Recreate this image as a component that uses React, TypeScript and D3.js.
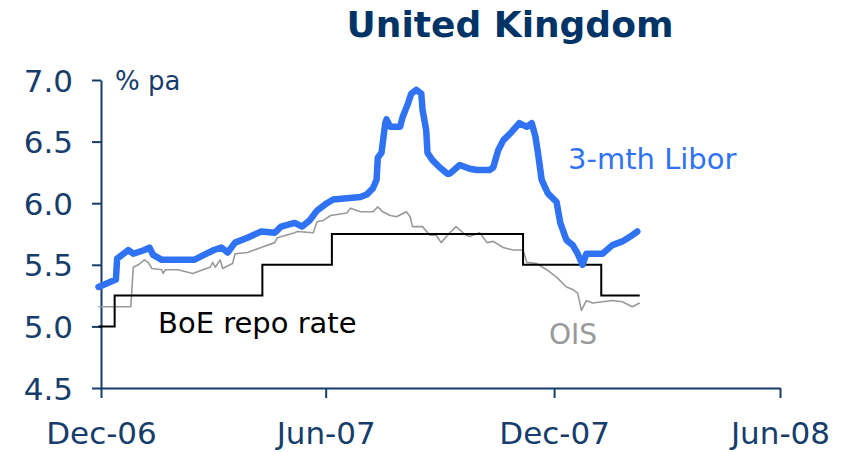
import React, { useEffect, useRef } from 'react';
import * as d3 from 'd3';

// 3-month sterling Libor, % pa
const libor: [string, number][] = [
  ['2006-12-29', 5.32], ['2007-01-12', 5.38], ['2007-01-13', 5.55], ['2007-01-22', 5.62],
  ['2007-01-26', 5.59], ['2007-02-04', 5.62], ['2007-02-08', 5.64], ['2007-02-11', 5.58],
  ['2007-02-18', 5.54], ['2007-03-03', 5.54], ['2007-03-16', 5.54], ['2007-03-24', 5.58],
  ['2007-04-01', 5.62], ['2007-04-07', 5.64], ['2007-04-12', 5.60], ['2007-04-18', 5.68],
  ['2007-04-28', 5.72], ['2007-05-09', 5.77], ['2007-05-20', 5.76], ['2007-05-25', 5.81],
  ['2007-06-05', 5.84], ['2007-06-11', 5.81], ['2007-06-17', 5.86], ['2007-06-23', 5.94],
  ['2007-07-01', 6.00], ['2007-07-06', 6.03], ['2007-07-17', 6.04], ['2007-07-28', 6.05],
  ['2007-08-02', 6.07], ['2007-08-07', 6.12], ['2007-08-10', 6.19], ['2007-08-11', 6.37],
  ['2007-08-14', 6.41], ['2007-08-17', 6.65], ['2007-08-18', 6.68], ['2007-08-21', 6.62],
  ['2007-08-29', 6.62], ['2007-08-31', 6.70], ['2007-09-04', 6.80], ['2007-09-07', 6.89],
  ['2007-09-11', 6.92], ['2007-09-15', 6.89], ['2007-09-16', 6.76], ['2007-09-19', 6.59],
  ['2007-09-20', 6.41], ['2007-09-24', 6.35], ['2007-09-30', 6.29], ['2007-10-06', 6.24],
  ['2007-10-08', 6.24], ['2007-10-16', 6.31], ['2007-10-24', 6.28], ['2007-10-30', 6.27],
  ['2007-11-09', 6.27], ['2007-11-12', 6.29], ['2007-11-16', 6.43], ['2007-11-20', 6.51],
  ['2007-11-27', 6.58], ['2007-12-03', 6.65], ['2007-12-09', 6.62], ['2007-12-13', 6.65],
  ['2007-12-16', 6.54], ['2007-12-18', 6.41], ['2007-12-21', 6.19], ['2007-12-26', 6.08],
  ['2008-01-02', 6.01], ['2008-01-05', 5.84], ['2008-01-10', 5.70], ['2008-01-15', 5.66],
  ['2008-01-19', 5.59], ['2008-01-23', 5.50], ['2008-01-26', 5.59], ['2008-01-31', 5.59],
  ['2008-02-08', 5.59], ['2008-02-16', 5.66], ['2008-02-24', 5.69], ['2008-03-03', 5.74],
  ['2008-03-07', 5.77],
];

// overnight index swap rate
const ois: [string, number][] = [
  ['2006-12-29', 5.16], ['2007-01-24', 5.16], ['2007-01-26', 5.48], ['2007-01-30', 5.50],
  ['2007-02-04', 5.54], ['2007-02-07', 5.52], ['2007-02-10', 5.47], ['2007-02-18', 5.46],
  ['2007-02-19', 5.43], ['2007-02-21', 5.46], ['2007-03-03', 5.46], ['2007-03-15', 5.43],
  ['2007-03-23', 5.46], ['2007-03-29', 5.48], ['2007-03-31', 5.52], ['2007-04-02', 5.48],
  ['2007-04-06', 5.54], ['2007-04-08', 5.47], ['2007-04-16', 5.51], ['2007-04-18', 5.59],
  ['2007-04-28', 5.60], ['2007-05-09', 5.64], ['2007-05-20', 5.68], ['2007-05-22', 5.72],
  ['2007-06-05', 5.76], ['2007-06-07', 5.77], ['2007-06-20', 5.76], ['2007-06-23', 5.85],
  ['2007-06-28', 5.86], ['2007-07-04', 5.90], ['2007-07-17', 5.92], ['2007-07-20', 5.96],
  ['2007-07-28', 5.93], ['2007-08-07', 5.93], ['2007-08-11', 5.97], ['2007-08-15', 5.93],
  ['2007-08-21', 5.90], ['2007-08-26', 5.89], ['2007-09-03', 5.93], ['2007-09-06', 5.89],
  ['2007-09-08', 5.81], ['2007-09-16', 5.81], ['2007-09-22', 5.74], ['2007-09-27', 5.74],
  ['2007-10-01', 5.68], ['2007-10-08', 5.76], ['2007-10-13', 5.81], ['2007-10-21', 5.74],
  ['2007-10-24', 5.73], ['2007-11-01', 5.76], ['2007-11-07', 5.68], ['2007-11-12', 5.69],
  ['2007-11-20', 5.64], ['2007-11-28', 5.62], ['2007-12-06', 5.62], ['2007-12-09', 5.52],
  ['2007-12-17', 5.51], ['2007-12-25', 5.46], ['2008-01-02', 5.40], ['2008-01-10', 5.32],
  ['2008-01-15', 5.30], ['2008-01-19', 5.27], ['2008-01-22', 5.13], ['2008-01-26', 5.21],
  ['2008-01-31', 5.19], ['2008-02-08', 5.20], ['2008-02-16', 5.21], ['2008-02-24', 5.20],
  ['2008-03-03', 5.16], ['2008-03-09', 5.19],
];

// Bank of England repo rate (step changes)
const repo: [string, number][] = [
  ['2006-12-29', 5.00], ['2007-01-11', 5.25], ['2007-05-10', 5.50], ['2007-07-05', 5.75],
  ['2007-12-06', 5.50], ['2008-02-07', 5.25], ['2008-03-09', 5.25],
];

const yTicks = [4.5, 5.0, 5.5, 6.0, 6.5, 7.0];
const xTickDates = ['2006-12-31', '2007-06-30', '2007-12-31', '2008-06-30'];
const xTickLabels = ['Dec-06', 'Jun-07', 'Dec-07', 'Jun-08'];

const navy = '#163d6b';
const font = '"DejaVu Sans", Verdana, sans-serif';

const App = () => {
  const svgRef = useRef<SVGSVGElement>(null);

  useEffect(() => {
    const parse = d3.timeParse('%Y-%m-%d');
    const width = 845;
    const height = 452;
    const margin = { top: 80, right: 65, bottom: 64, left: 101 };

    const x = d3.scaleTime()
      .domain([parse(xTickDates[0])!, parse(xTickDates[3])!])
      .range([margin.left, width - margin.right]);
    const y = d3.scaleLinear()
      .domain([4.5, 7.0])
      .range([height - margin.bottom, margin.top]);

    const svg = d3.select(svgRef.current);
    svg.selectAll('*').remove();
    svg.attr('width', width).attr('height', height);

    // title
    svg.append('text')
      .attr('x', 510).attr('y', 37)
      .attr('text-anchor', 'middle')
      .style('font-family', font).style('font-size', '36px').style('font-weight', 'bold')
      .attr('fill', '#003366')
      .text('United Kingdom');

    // y axis
    const yAxis = svg.append('g')
      .attr('transform', `translate(${margin.left},0)`)
      .call(d3.axisLeft(y).tickValues(yTicks).tickFormat(d3.format('.1f')).tickSize(9).tickSizeOuter(0).tickPadding(19));
    yAxis.select('.domain').attr('stroke', navy).attr('stroke-width', 2);
    yAxis.selectAll('.tick line').attr('stroke', navy).attr('stroke-width', 2);
    yAxis.selectAll('.tick text')
      .attr('fill', navy).attr('dy', '0.36em')
      .style('font-family', font).style('font-size', '31px');

    // x axis
    const xAxis = svg.append('g')
      .attr('transform', `translate(0,${height - margin.bottom})`)
      .call(d3.axisBottom(x)
        .tickValues(xTickDates.map(d => parse(d)!))
        .tickFormat((d, i) => xTickLabels[i])
        .tickSize(10).tickSizeOuter(0).tickPadding(24));
    xAxis.select('.domain').attr('stroke', navy).attr('stroke-width', 2);
    xAxis.selectAll('.tick line').attr('stroke', navy).attr('stroke-width', 2);
    xAxis.selectAll('.tick text')
      .attr('fill', navy)
      .style('font-family', font).style('font-size', '31px');

    const line = d3.line<[string, number]>()
      .x(d => x(parse(d[0])!))
      .y(d => y(d[1]));

    svg.append('path')
      .datum(ois)
      .attr('d', line)
      .attr('fill', 'none')
      .attr('stroke', '#999999')
      .attr('stroke-width', 1.6)
      .attr('stroke-linejoin', 'round');

    svg.append('path')
      .datum(repo)
      .attr('d', line.curve(d3.curveStepAfter))
      .attr('fill', 'none')
      .attr('stroke', '#000000')
      .attr('stroke-width', 2);
    line.curve(d3.curveLinear);

    svg.append('path')
      .datum(libor)
      .attr('d', line)
      .attr('fill', 'none')
      .attr('stroke', '#2f72f4')
      .attr('stroke-width', 6.5)
      .attr('stroke-linejoin', 'round')
      .attr('stroke-linecap', 'round');

    // labels
    const label = (tx: number, ty: number, text: string, color: string, size: number) =>
      svg.append('text')
        .attr('x', tx).attr('y', ty)
        .attr('fill', color)
        .style('font-family', font).style('font-size', `${size}px`)
        .text(text);

    label(115, 90, '% pa', navy, 26);
    label(568, 169, '3-mth Libor', '#2f72f4', 29);
    label(158, 333, 'BoE repo rate', '#000000', 29);
    label(549, 344, 'OIS', '#999999', 28);
  }, []);

  return (
    <div style={{ position: 'absolute', left: 0, top: 0 }}>
      <svg ref={svgRef} style={{ display: 'block' }}></svg>
    </div>
  );
};

export default App;
